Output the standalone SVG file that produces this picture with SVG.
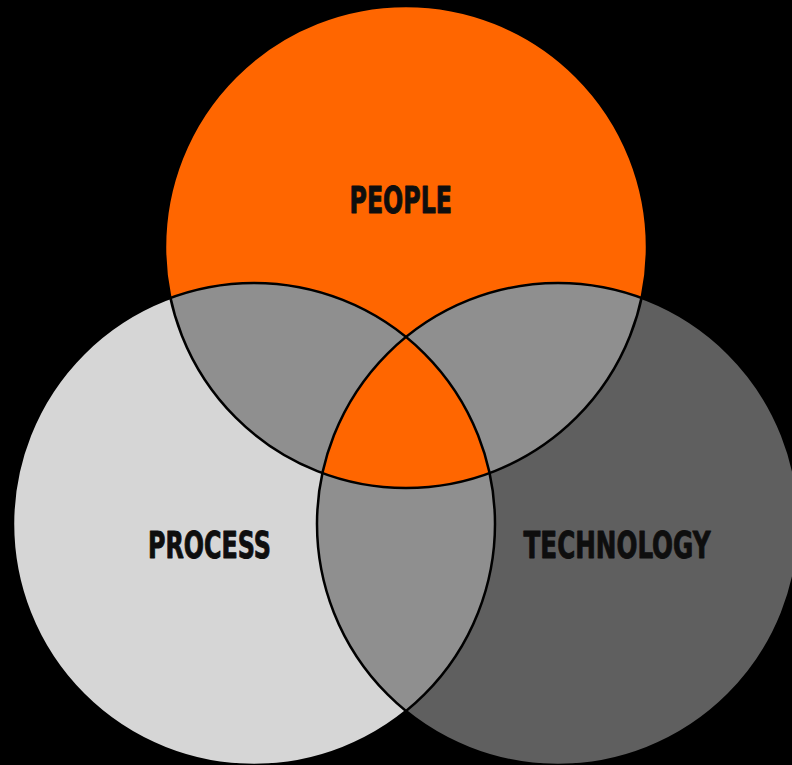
<svg xmlns="http://www.w3.org/2000/svg" width="792" height="765" viewBox="0 0 792 765">
  <style>
    .label { font-family: "Liberation Sans Narrow", "DejaVu Sans Condensed", "Liberation Sans", sans-serif; font-weight: bold; font-size: 37px; fill: #0e0e0e; stroke: #0e0e0e; stroke-width: 0.9; stroke-linejoin: round; }
    .outline { fill: none; stroke: #000000; stroke-width: 2.5; }
    .overlap { fill: #8f8f8f; }
  </style>
  <defs>
    <circle id="c-people" cx="406" cy="247" r="241"/>
    <circle id="c-process" cx="254" cy="524" r="241"/>
    <circle id="c-technology" cx="558" cy="524" r="241"/>
    <clipPath id="clip-people"><use href="#c-people"/></clipPath>
    <clipPath id="clip-process"><use href="#c-process"/></clipPath>
    <clipPath id="clip-technology"><use href="#c-technology"/></clipPath>
  </defs>

  <rect x="0" y="0" width="792" height="765" fill="#000000"/>

  <!-- base discs -->
  <g id="node-people">
    <use href="#c-people" fill="#ff6600"/>
  </g>
  <g id="node-process">
    <use href="#c-process" fill="#d6d6d6"/>
  </g>
  <g id="node-technology">
    <use href="#c-technology" fill="#5f5f5f"/>
  </g>

  <!-- pairwise overlaps -->
  <g id="overlaps">
    <g clip-path="url(#clip-people)"><use href="#c-process" class="overlap"/></g>
    <g clip-path="url(#clip-people)"><use href="#c-technology" class="overlap"/></g>
    <g clip-path="url(#clip-process)"><use href="#c-technology" class="overlap"/></g>
    <!-- centre where all three meet -->
    <g clip-path="url(#clip-process)"><g clip-path="url(#clip-technology)"><use href="#c-people" fill="#ff6600"/></g></g>
  </g>

  <!-- circle outlines -->
  <g id="outlines">
    <use href="#c-people" class="outline"/>
    <use href="#c-process" class="outline"/>
    <use href="#c-technology" class="outline"/>
  </g>

  <!-- labels -->
  <g id="labels">
    <text class="label" x="349.5" y="212.5" textLength="102.5" lengthAdjust="spacingAndGlyphs">PEOPLE</text>
    <text class="label" x="148" y="557.5" textLength="123" lengthAdjust="spacingAndGlyphs">PROCESS</text>
    <text class="label" x="523.5" y="557.5" textLength="187" lengthAdjust="spacingAndGlyphs">TECHNOLOGY</text>
  </g>
</svg>
